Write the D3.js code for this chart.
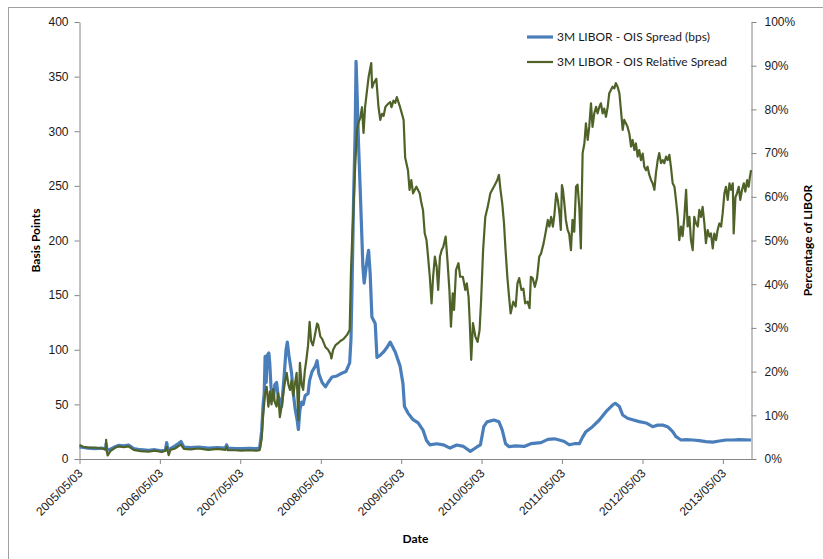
<!DOCTYPE html>
<html>
<head>
<meta charset="utf-8">
<script src="https://cdn.jsdelivr.net/npm/d3@7"></script>
<style>
  html, body { margin: 0; padding: 0; background: #fff; }
  svg { display: block; font-family: Lato, "Open Sans", sans-serif; }
</style>
</head>
<body>
<svg id="chart" width="823" height="559"></svg>
<script>
// 3M LIBOR - OIS spread in basis points (left axis)
const spreadBps = [
  ["2005-05-03", 11], ["2005-05-20", 10.5], ["2005-06-12", 10], ["2005-07-13", 9.5], ["2005-08-13", 10],
  ["2005-08-30", 9], ["2005-09-01", 14], ["2005-09-05", 8], ["2005-09-20", 9], ["2005-10-10", 11],
  ["2005-10-27", 12.5], ["2005-11-20", 12], ["2005-12-12", 12.8], ["2006-01-04", 9.5], ["2006-02-05", 8.5],
  ["2006-03-12", 8], ["2006-04-10", 8.5], ["2006-05-11", 7.5], ["2006-05-28", 8], ["2006-06-03", 15],
  ["2006-06-08", 9], ["2006-06-20", 9.5], ["2006-07-11", 12], ["2006-07-25", 14], ["2006-08-07", 16],
  ["2006-08-20", 11], ["2006-09-20", 10.5], ["2006-10-25", 11], ["2006-12-09", 10], ["2007-01-20", 10.5],
  ["2007-02-25", 10], ["2007-03-02", 13], ["2007-03-08", 10], ["2007-04-10", 9.5], ["2007-05-09", 9.5],
  ["2007-06-10", 9.8], ["2007-07-16", 9.5], ["2007-07-30", 10], ["2007-08-08", 25], ["2007-08-15", 50],
  ["2007-08-20", 60], ["2007-08-24", 94], ["2007-08-29", 70], ["2007-09-03", 95], ["2007-09-10", 97],
  ["2007-09-14", 88], ["2007-09-20", 65], ["2007-09-30", 54], ["2007-10-07", 68], ["2007-10-15", 70],
  ["2007-10-22", 58], ["2007-11-07", 48], ["2007-11-18", 75], ["2007-11-27", 100], ["2007-12-03", 107],
  ["2007-12-10", 95], ["2007-12-22", 79], ["2007-12-30", 60], ["2008-01-08", 45], ["2008-01-17", 35],
  ["2008-01-22", 27], ["2008-01-29", 45], ["2008-02-06", 52], ["2008-02-13", 50], ["2008-02-22", 58],
  ["2008-03-06", 60], ["2008-03-13", 72], ["2008-03-24", 80], ["2008-04-08", 85], ["2008-04-16", 90],
  ["2008-04-24", 78], ["2008-05-09", 70], ["2008-05-24", 66], ["2008-06-05", 70], ["2008-06-23", 75],
  ["2008-07-15", 76], ["2008-08-01", 78], ["2008-08-25", 80], ["2008-09-11", 88], ["2008-09-17", 110],
  ["2008-09-22", 160], ["2008-09-29", 240], ["2008-10-06", 300], ["2008-10-10", 364], ["2008-10-14", 340],
  ["2008-10-21", 290], ["2008-10-29", 246], ["2008-11-06", 200], ["2008-11-10", 176], ["2008-11-16", 161],
  ["2008-11-25", 176], ["2008-12-01", 185], ["2008-12-06", 191], ["2008-12-13", 170], ["2008-12-21", 130],
  ["2009-01-05", 124], ["2009-01-13", 93], ["2009-01-28", 95], ["2009-02-12", 98], ["2009-02-27", 102],
  ["2009-03-14", 107], ["2009-04-06", 98], ["2009-04-28", 85], ["2009-05-11", 69], ["2009-05-18", 48],
  ["2009-06-03", 42], ["2009-06-26", 36], ["2009-07-19", 33], ["2009-08-10", 26.5], ["2009-08-26", 17],
  ["2009-09-10", 13], ["2009-10-11", 14], ["2009-11-10", 13], ["2009-12-11", 10], ["2010-01-10", 12.8],
  ["2010-02-10", 11.5], ["2010-03-13", 7], ["2010-04-12", 11], ["2010-04-28", 13], ["2010-05-13", 29.6],
  ["2010-05-28", 34], ["2010-06-28", 35.7], ["2010-07-21", 34], ["2010-08-05", 26.5], ["2010-08-20", 14],
  ["2010-09-05", 11.3], ["2010-10-05", 12], ["2010-11-12", 11.5], ["2010-12-13", 14], ["2011-01-28", 15],
  ["2011-02-28", 18], ["2011-03-30", 18.5], ["2011-04-21", 17.4], ["2011-05-14", 16], ["2011-06-05", 13],
  ["2011-06-28", 14], ["2011-07-21", 14], ["2011-08-05", 20], ["2011-08-20", 25], ["2011-09-19", 29.6],
  ["2011-10-20", 35.7], ["2011-11-19", 43.3], ["2011-12-19", 49.4], ["2011-12-31", 51], ["2012-01-19", 48],
  ["2012-02-03", 40.3], ["2012-02-25", 37.3], ["2012-03-19", 36], ["2012-04-18", 34.2], ["2012-05-19", 33],
  ["2012-06-18", 29.6], ["2012-07-11", 31], ["2012-08-03", 31], ["2012-08-25", 29.6], ["2012-09-17", 25],
  ["2012-10-02", 20.4], ["2012-10-25", 17.4], ["2012-11-17", 17.8], ["2012-12-17", 17.4], ["2013-01-16", 16.8],
  ["2013-02-15", 15.9], ["2013-03-18", 15.5], ["2013-04-17", 16.5], ["2013-05-17", 17.4], ["2013-06-17", 17.4],
  ["2013-07-14", 17.8], ["2013-09-08", 17.4]
];

// 3M LIBOR - OIS spread relative to LIBOR, in percent (right axis)
const relativeSpreadPct = [
  ["2005-05-03", 3.2], ["2005-05-20", 2.8], ["2005-06-12", 2.6], ["2005-07-13", 2.6], ["2005-08-13", 2.4],
  ["2005-08-30", 2.2], ["2005-09-01", 4.4], ["2005-09-03", 2.0], ["2005-09-08", 0.8], ["2005-09-20", 1.8],
  ["2005-10-10", 2.5], ["2005-10-27", 2.9], ["2005-11-20", 2.7], ["2005-12-12", 2.9], ["2006-01-04", 2.1],
  ["2006-02-05", 1.8], ["2006-03-12", 1.7], ["2006-04-10", 1.9], ["2006-05-11", 1.6], ["2006-05-28", 1.9],
  ["2006-06-03", 2.8], ["2006-06-12", 0.9], ["2006-06-20", 2.1], ["2006-07-11", 2.4], ["2006-07-25", 2.9],
  ["2006-08-07", 3.3], ["2006-08-20", 2.3], ["2006-09-20", 2.2], ["2006-10-25", 2.4], ["2006-12-09", 2.1],
  ["2007-01-20", 2.3], ["2007-02-25", 2.1], ["2007-03-02", 2.8], ["2007-03-08", 2.0], ["2007-04-10", 2.0],
  ["2007-05-09", 1.9], ["2007-06-10", 2.0], ["2007-07-16", 1.9], ["2007-07-30", 2.0], ["2007-08-08", 4.5],
  ["2007-08-15", 10], ["2007-08-24", 15], ["2007-08-31", 16.5], ["2007-09-08", 12], ["2007-09-15", 15.5],
  ["2007-09-22", 12.5], ["2007-09-30", 16], ["2007-10-07", 13], ["2007-10-15", 12], ["2007-10-22", 15],
  ["2007-10-30", 9.6], ["2007-11-10", 13], ["2007-11-20", 17], ["2007-11-30", 19.7], ["2007-12-08", 17],
  ["2007-12-15", 15.8], ["2007-12-22", 18], ["2007-12-30", 14.5], ["2008-01-06", 17], ["2008-01-14", 19.7],
  ["2008-01-22", 8.9], ["2008-01-29", 22], ["2008-02-06", 17], ["2008-02-13", 15.8], ["2008-02-20", 20],
  ["2008-02-28", 23], ["2008-03-06", 26], ["2008-03-13", 31.4], ["2008-03-20", 27], ["2008-03-28", 26],
  ["2008-04-05", 28], ["2008-04-16", 31], ["2008-04-21", 30.7], ["2008-05-01", 28], ["2008-05-09", 27.5],
  ["2008-05-24", 25.6], ["2008-06-05", 25], ["2008-06-16", 24], ["2008-06-20", 23], ["2008-06-28", 25],
  ["2008-07-08", 26], ["2008-07-20", 26.5], ["2008-07-31", 27], ["2008-08-15", 27.5], ["2008-08-30", 28.4],
  ["2008-09-11", 29.5], ["2008-09-17", 43], ["2008-09-22", 50], ["2008-09-29", 58], ["2008-10-06", 67],
  ["2008-10-14", 75], ["2008-10-21", 77], ["2008-10-29", 78], ["2008-11-06", 80.5], ["2008-11-13", 74.6],
  ["2008-11-20", 80.5], ["2008-11-28", 84], ["2008-12-06", 87.4], ["2008-12-18", 90.6], ["2008-12-22", 85],
  ["2008-12-29", 86], ["2009-01-10", 87], ["2009-01-20", 80.5], ["2009-01-28", 77.6], ["2009-02-05", 79],
  ["2009-02-12", 78.5], ["2009-02-20", 80.5], ["2009-02-27", 81], ["2009-03-14", 81.7], ["2009-03-20", 80.5],
  ["2009-03-29", 82], ["2009-04-06", 81.5], ["2009-04-13", 82.8], ["2009-04-28", 80.5], ["2009-05-14", 77.6],
  ["2009-05-21", 69], ["2009-06-03", 66], ["2009-06-10", 61.6], ["2009-06-18", 63.8], ["2009-06-26", 60.8],
  ["2009-07-11", 62.3], ["2009-07-26", 60.8], ["2009-08-03", 58.5], ["2009-08-10", 57], ["2009-08-18", 51.6],
  ["2009-08-26", 50.1], ["2009-09-02", 46.3], ["2009-09-10", 41.7], ["2009-09-18", 35.6], ["2009-09-25", 41.7],
  ["2009-10-03", 46.3], ["2009-10-11", 44], ["2009-10-18", 38.7], ["2009-10-26", 46.3], ["2009-11-03", 47.8],
  ["2009-11-10", 48.5], ["2009-11-21", 50.9], ["2009-11-29", 45.5], ["2009-12-08", 38.7], ["2009-12-15", 30.3],
  ["2009-12-23", 37.9], ["2009-12-29", 34.1], ["2010-01-07", 43.2], ["2010-01-18", 44.8], ["2010-01-26", 41.7],
  ["2010-02-07", 41.7], ["2010-02-18", 38.7], ["2010-02-25", 40.2], ["2010-03-05", 37.1], ["2010-03-10", 31.8],
  ["2010-03-17", 22.7], ["2010-03-25", 31.1], ["2010-04-05", 28], ["2010-04-15", 26.8], ["2010-04-24", 29.5],
  ["2010-05-01", 36.4], ["2010-05-10", 47.8], ["2010-05-20", 55.4], ["2010-05-31", 57.7], ["2010-06-12", 60.8],
  ["2010-06-28", 62.3], ["2010-07-13", 63.8], ["2010-07-21", 65], ["2010-07-28", 61.6], ["2010-08-05", 58.5],
  ["2010-08-13", 53.9], ["2010-08-20", 47.8], ["2010-08-28", 41.7], ["2010-09-05", 37.1], ["2010-09-12", 33.3],
  ["2010-09-24", 36], ["2010-10-05", 34.9], ["2010-10-13", 40.2], ["2010-10-21", 41.4], ["2010-10-31", 38.7],
  ["2010-11-09", 39], ["2010-11-17", 35.6], ["2010-11-28", 36], ["2010-12-07", 34.5], ["2010-12-13", 41.7],
  ["2010-12-21", 41.4], ["2010-12-31", 39.4], ["2011-01-10", 41.4], ["2011-01-20", 46.3], ["2011-01-28", 47],
  ["2011-02-09", 49.4], ["2011-02-20", 52.4], ["2011-02-28", 54.7], ["2011-03-07", 53.2], ["2011-03-15", 55.4],
  ["2011-03-23", 53.2], ["2011-03-30", 56], ["2011-04-07", 60.8], ["2011-04-14", 59.3], ["2011-04-22", 56.2],
  ["2011-04-28", 52.4], ["2011-05-03", 62.7], ["2011-05-08", 61.5], ["2011-05-14", 58.5], ["2011-05-21", 54.7],
  ["2011-05-29", 52.4], ["2011-06-05", 51.5], ["2011-06-13", 47.8], ["2011-06-20", 54.7], ["2011-06-28", 52],
  ["2011-07-06", 62.3], ["2011-07-13", 62.8], ["2011-07-21", 57.5], ["2011-07-28", 48.2], ["2011-08-05", 70],
  ["2011-08-13", 72.2], ["2011-08-20", 76.8], ["2011-08-28", 73], ["2011-09-04", 76], ["2011-09-12", 81.4],
  ["2011-09-19", 76], ["2011-09-27", 79.1], ["2011-10-05", 80.6], ["2011-10-12", 79.1], ["2011-10-20", 80.6],
  ["2011-10-27", 81.4], ["2011-11-04", 79.1], ["2011-11-11", 80.2], ["2011-11-19", 78.3], ["2011-11-27", 80.6],
  ["2011-12-04", 83.7], ["2011-12-12", 84.5], ["2011-12-19", 85.2], ["2011-12-27", 84.8], ["2012-01-03", 86],
  ["2012-01-11", 85.2], ["2012-01-19", 83.7], ["2012-01-26", 79.9], ["2012-02-03", 75.3], ["2012-02-10", 77.6],
  ["2012-02-18", 76.8], ["2012-02-25", 76], ["2012-03-04", 74.5], ["2012-03-12", 71.5], ["2012-03-19", 73],
  ["2012-03-27", 70.7], ["2012-04-03", 72.2], ["2012-04-11", 69.2], ["2012-04-18", 70.7], ["2012-04-26", 68.4],
  ["2012-05-04", 69.9], ["2012-05-11", 66.9], ["2012-05-19", 66.1], ["2012-05-26", 66.9], ["2012-06-03", 65],
  ["2012-06-11", 63.8], ["2012-06-18", 63.1], ["2012-06-26", 61.6], ["2012-07-03", 65.4], ["2012-07-11", 68.4],
  ["2012-07-18", 70], ["2012-07-26", 67.7], ["2012-08-03", 68.4], ["2012-08-10", 67.7], ["2012-08-18", 69.2],
  ["2012-08-25", 68.4], ["2012-09-02", 69.6], ["2012-09-09", 66.9], ["2012-09-17", 63.1], ["2012-09-25", 62.3],
  ["2012-10-02", 59.3], ["2012-10-10", 55.4], ["2012-10-17", 50.1], ["2012-10-25", 53.2], ["2012-11-01", 51],
  ["2012-11-09", 55.4], ["2012-11-17", 61.6], ["2012-11-24", 53.2], ["2012-12-02", 55.4], ["2012-12-09", 50.1],
  ["2012-12-17", 47.8], ["2012-12-24", 55.4], ["2013-01-01", 53.9], ["2013-01-09", 53.2], ["2013-01-16", 57],
  ["2013-01-24", 55.4], ["2013-01-31", 57.7], ["2013-02-08", 53.9], ["2013-02-15", 49.4], ["2013-02-23", 52.4],
  ["2013-03-03", 50.9], ["2013-03-10", 51.6], ["2013-03-18", 48.2], ["2013-03-25", 51.6], ["2013-04-02", 50.1],
  ["2013-04-09", 52.4], ["2013-04-17", 53.9], ["2013-04-25", 53.2], ["2013-05-02", 56.2], ["2013-05-10", 60.8],
  ["2013-05-17", 62.3], ["2013-05-25", 59.3], ["2013-06-02", 63.1], ["2013-06-09", 61.6], ["2013-06-17", 63.1],
  ["2013-06-21", 51.6], ["2013-06-29", 59.9], ["2013-07-06", 60.8], ["2013-07-14", 62.3], ["2013-07-21", 59.3],
  ["2013-07-29", 61.6], ["2013-08-06", 63.1], ["2013-08-13", 61.2], ["2013-08-21", 63.8], ["2013-08-28", 62.3],
  ["2013-09-03", 64.6], ["2013-09-08", 66.1]
];

const dateRange = ["2005-05-03", "2013-09-10"];
const dateTicks = ["2005-05-03", "2006-05-03", "2007-05-03", "2008-05-03", "2009-05-03",
                   "2010-05-03", "2011-05-03", "2012-05-03", "2013-05-03"];
const bpsTicks = [0, 50, 100, 150, 200, 250, 300, 350, 400];
const pctTicks = [0, 10, 20, 30, 40, 50, 60, 70, 80, 90, 100];
const seriesNames = ["3M LIBOR - OIS Spread (bps)", "3M LIBOR - OIS Relative Spread"];
const axisTitles = { left: "Basis  Points", right: "Percentage of LIBOR", bottom: "Date" };

const parse = d3.timeParse("%Y-%m-%d");
const fmt = d3.timeFormat("%Y/%m/%d");

const plot = { left: 79.5, right: 751.5, top: 22, bottom: 459 };
const blue = "#4A7EBB", olive = "#4F6228", axisGrey = "#868686";

const svg = d3.select("#chart");

// outer chart frame
svg.append("rect").attr("x", 8.5).attr("y", 7.5).attr("width", 900).attr("height", 600)
  .attr("fill", "none").attr("stroke", "#a0a0a0").attr("stroke-width", 1);

const x = d3.scaleTime().domain(dateRange.map(parse)).range([plot.left, plot.right]);
const yL = d3.scaleLinear().domain([0, 400]).range([plot.bottom, plot.top]);
const yR = d3.scaleLinear().domain([0, 100]).range([plot.bottom, plot.top]);

function styleAxis(g) {
  g.select(".domain").attr("stroke", axisGrey);
  g.selectAll(".tick line").attr("stroke", axisGrey);
  g.selectAll(".tick text").attr("fill", "#1a1a1a").style("font-size", "12px");
}

// left axis (basis points)
svg.append("g").attr("transform", `translate(${plot.left},0)`)
  .call(d3.axisLeft(yL).tickValues(bpsTicks).tickSize(5).tickSizeOuter(0).tickPadding(6))
  .call(styleAxis);

// right axis (percentage)
svg.append("g").attr("transform", `translate(${plot.right},0)`)
  .call(d3.axisRight(yR).tickValues(pctTicks).tickFormat(d => d + "%").tickSize(5).tickSizeOuter(0).tickPadding(8))
  .call(styleAxis);

// bottom axis (dates) with slanted labels
const xg = svg.append("g").attr("transform", `translate(0,${plot.bottom})`)
  .call(d3.axisBottom(x).tickValues(dateTicks.map(parse)).tickFormat(fmt).tickSize(5).tickSizeOuter(0))
  .call(styleAxis);
xg.selectAll(".tick text")
  .attr("x", 0).attr("y", 0).attr("dy", null)
  .attr("text-anchor", "end")
  .attr("transform", "translate(3.5,15) rotate(-45)");

// series lines
const lineL = d3.line().x(d => x(parse(d[0]))).y(d => yL(d[1]));
const lineR = d3.line().x(d => x(parse(d[0]))).y(d => yR(d[1]));

svg.append("path").datum(spreadBps).attr("d", lineL)
  .attr("fill", "none").attr("stroke", blue).attr("stroke-width", 3.2).attr("stroke-linejoin", "round");
svg.append("path").datum(relativeSpreadPct).attr("d", lineR)
  .attr("fill", "none").attr("stroke", olive).attr("stroke-width", 2.2).attr("stroke-linejoin", "round");

// axis titles
const title = svg.append("g").attr("fill", "#000").style("font-size", "12px").style("font-weight", "bold");
title.append("text").attr("text-anchor", "middle")
  .attr("transform", `translate(40,${(plot.top + plot.bottom) / 2}) rotate(-90)`)
  .text(axisTitles.left);
title.append("text").attr("text-anchor", "middle")
  .attr("transform", `translate(812,${(plot.top + plot.bottom) / 2}) rotate(-90)`)
  .text(axisTitles.right);
title.append("text").attr("text-anchor", "middle")
  .attr("x", (plot.left + plot.right) / 2).attr("y", 543)
  .text(axisTitles.bottom);

// legend
const legend = svg.append("g").style("font-size", "12px");
const legendRows = [
  { name: seriesNames[0], color: blue, width: 3.2, y: 37 },
  { name: seriesNames[1], color: olive, width: 2.2, y: 62 }
];
legendRows.forEach(r => {
  legend.append("line").attr("x1", 527).attr("x2", 553).attr("y1", r.y).attr("y2", r.y)
    .attr("stroke", r.color).attr("stroke-width", r.width);
  legend.append("text").attr("x", 557).attr("y", r.y + 4).attr("fill", "#1a1a1a").text(r.name);
});
</script>
</body>
</html>
